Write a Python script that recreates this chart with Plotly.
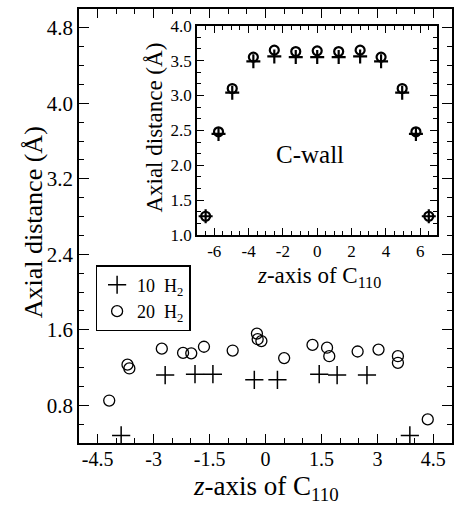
import plotly.graph_objects as go

# ---------------- data ----------------
main_x_10 = [-3.87, -2.69, -1.89, -1.41, -0.30, 0.32, 1.44, 1.92, 2.72, 3.87]
main_y_10 = [0.48, 1.12, 1.13, 1.13, 1.07, 1.07, 1.13, 1.12, 1.12, 0.48]
main_x_20 = [-4.19, -3.70, -3.65, -2.78, -2.21, -1.99, -1.65, -0.88, -0.23, -0.21,
             -0.11, 0.50, 1.26, 1.65, 1.71, 2.47, 3.03, 3.55, 3.55, 4.35]
main_y_20 = [0.85, 1.23, 1.19, 1.40, 1.355, 1.35, 1.42, 1.38, 1.56, 1.50,
             1.48, 1.30, 1.44, 1.41, 1.32, 1.37, 1.39, 1.32, 1.25, 0.65]

inset_x = [-6.5, -5.75, -4.95, -3.72, -2.5, -1.25, 0, 1.25, 2.5, 3.72, 4.95, 5.75, 6.5]
inset_y_10 = [1.27, 2.45, 3.04, 3.49, 3.56, 3.55, 3.55, 3.55, 3.56, 3.49, 3.04, 2.45, 1.27]
inset_y_20 = [1.27, 2.48, 3.10, 3.55, 3.65, 3.63, 3.64, 3.63, 3.65, 3.55, 3.10, 2.48, 1.27]

main_xticks = [-4.5, -3, -1.5, 0, 1.5, 3, 4.5]
main_xtext = ["-4.5", "-3", "-1.5", "0", "1.5", "3", "4.5"]
main_yticks = [0.8, 1.6, 2.4, 3.2, 4.0, 4.8]
main_ytext = ["0.8", "1.6", "2.4", "3.2", "4.0", "4.8"]
inset_xticks = [-6, -4, -2, 0, 2, 4, 6]
inset_xtext = ["-6", "-4", "-2", "0", "2", "4", "6"]
inset_yticks = [1.0, 1.5, 2.0, 2.5, 3.0, 3.5, 4.0]
inset_ytext = ["1.0", "1.5", "2.0", "2.5", "3.0", "3.5", "4.0"]

series_names = ["10  H<sub>2</sub>", "20  H<sub>2</sub>"]

FONT = "Liberation Serif, Times New Roman, serif"

fig = go.Figure()

fig.add_trace(go.Scatter(x=main_x_10, y=main_y_10, mode="markers", name=series_names[0],
                         marker=dict(symbol="cross-thin-open", size=13, color="black",
                                     line=dict(color="black", width=1.5))))
fig.add_trace(go.Scatter(x=main_x_20, y=main_y_20, mode="markers", name=series_names[1],
                         marker=dict(symbol="circle-open", size=11, color="black",
                                     line=dict(color="black", width=1.3))))

fig.add_trace(go.Scatter(x=inset_x, y=inset_y_10, mode="markers", showlegend=False,
                         xaxis="x2", yaxis="y2",
                         marker=dict(symbol="cross-thin-open", size=10, color="black",
                                     line=dict(color="black", width=2.2))))
fig.add_trace(go.Scatter(x=inset_x, y=inset_y_20, mode="markers", showlegend=False,
                         xaxis="x2", yaxis="y2",
                         marker=dict(symbol="circle-open", size=9, color="black",
                                     line=dict(color="black", width=2.2))))

axis_common = dict(showgrid=False, zeroline=False, showline=True, linecolor="black",
                   linewidth=1.8, mirror="allticks", ticks="inside", tickcolor="black")

fig.update_layout(
    width=454, height=506,
    margin=dict(l=79, r=0, t=9, b=63),
    paper_bgcolor="white", plot_bgcolor="white",
    font=dict(family=FONT, color="black"),
    xaxis=dict(range=[-5, 5], tickvals=main_xticks, ticktext=main_xtext,
               ticklen=9, tickwidth=1.3, ticklabelstandoff=-3,
               minor=dict(dtick=0.5, tick0=0, ticklen=5, tickwidth=1.2, ticks="inside",
                          tickcolor="black"),
               tickfont=dict(size=20, family=FONT), **axis_common),
    yaxis=dict(range=[0.4, 5.0], tickvals=main_yticks, ticktext=main_ytext,
               ticklen=10, tickwidth=1.3,
               minor=dict(dtick=0.2, tick0=0, ticklen=5, tickwidth=1.2, ticks="inside",
                          tickcolor="black"),
               tickfont=dict(size=21, family=FONT), **axis_common),
    xaxis2=dict(domain=[0.3165, 0.9608], anchor="y2", range=[-7, 7],
                tickvals=inset_xticks, ticktext=inset_xtext, ticklen=7, tickwidth=1.2,
                minor=dict(dtick=0.5, tick0=0, ticklen=4, tickwidth=1, ticks="inside",
                           tickcolor="black"),
                tickfont=dict(size=17, family=FONT), **axis_common),
    yaxis2=dict(domain=[0.479, 0.9615], anchor="x2", range=[1.0, 4.0],
                tickvals=inset_yticks, ticktext=inset_ytext, ticklen=7, tickwidth=1.2,
                minor=dict(dtick=0.5 / 3, tick0=1.0, ticklen=4, tickwidth=1, ticks="inside",
                           tickcolor="black"),
                tickfont=dict(size=17, family=FONT), **axis_common),
    legend=dict(x=0.0445, y=0.41, xanchor="left", yanchor="top",
                bordercolor="black", borderwidth=1.5, bgcolor="white",
                font=dict(size=18, family=FONT), tracegroupgap=0,
                itemwidth=30),
    showlegend=True,
)

annos = [
    dict(text="Axial distance (Å)", x=33, y=222, textangle=-90, size=26),
    dict(text="<i>z</i>-axis of C<sub>110</sub>", x=267, y=488, textangle=0, size=27),
    dict(text="Axial distance (Å)", x=155, y=128, textangle=-90, size=23),
    dict(text="<i>z</i>-axis of C<sub>110</sub>", x=320, y=277, textangle=0, size=23),
]
for a in annos:
    fig.add_annotation(text=a["text"], xref="paper", yref="paper",
                       x=(a["x"] - 79) / 375, y=(443 - a["y"]) / 434,
                       xanchor="center", yanchor="middle", showarrow=False,
                       textangle=a["textangle"],
                       font=dict(size=a["size"], family=FONT, color="black"))

fig.add_annotation(text="C-wall", x=-0.43, y=2.15, xref="x2", yref="y2",
                   showarrow=False, font=dict(size=25, family=FONT, color="black"))

fig.write_html("out.html")
